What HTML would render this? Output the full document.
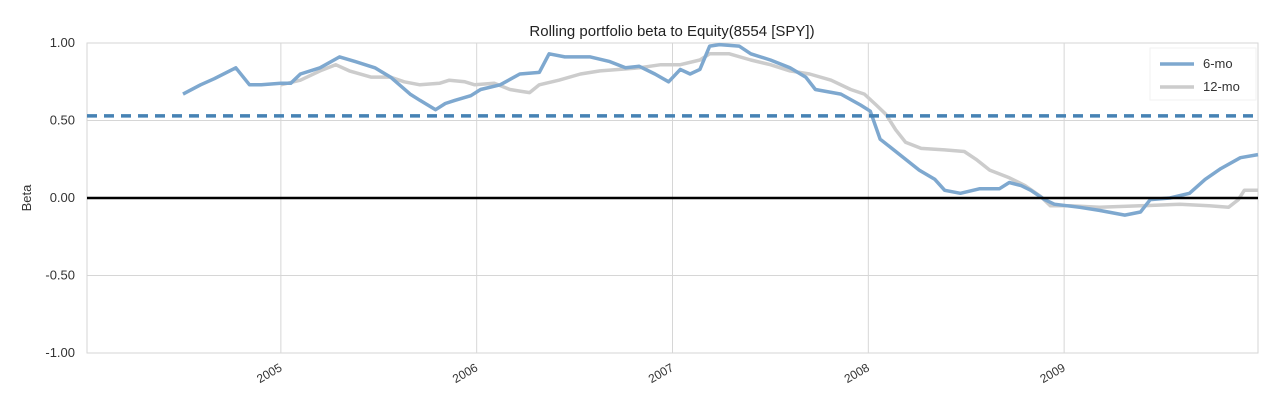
<!DOCTYPE html>
<html><head><meta charset="utf-8">
<style>
body{margin:0;background:#fff;font-family:"Liberation Sans",Arial,sans-serif;}
svg text{font-family:"Liberation Sans",Arial,sans-serif;fill:#333;}
</style></head>
<body>
<svg id="chart" width="1280" height="407" viewBox="0 0 1280 407" xmlns="http://www.w3.org/2000/svg">
<text x="672" y="36" text-anchor="middle" font-size="15" style="fill:#222">Rolling portfolio beta to Equity(8554 [SPY])</text>
<text transform="translate(31,198) rotate(-90)" text-anchor="middle" font-size="13">Beta</text>
<g id="grid"></g>
<g id="series"></g>
<g>
<rect x="1150" y="48" width="106" height="52" fill="#fff" stroke="#f2f2f2"/>
<line x1="1160" y1="64" x2="1194" y2="64" stroke="#7ea8cf" stroke-width="3.5"/>
<text x="1203" y="68" font-size="13">6-mo</text>
<line x1="1160" y1="87" x2="1194" y2="87" stroke="#cccccc" stroke-width="3.5"/>
<text x="1203" y="91" font-size="13">12-mo</text>
</g>
</svg>
<script>
const yTicks=[1,0.5,0,-0.5,-1];
const yTickLabels=["1.00","0.50","0.00","-0.50","-1.00"];
const xTicks=[2005,2006,2007,2008,2009];
const xTickLabels=["2005","2006","2007","2008","2009"];
const meanBeta=0.53;
const dates6=[2004.50,2004.59,2004.66,2004.77,2004.84,2004.90,2005.00,2005.05,2005.10,2005.20,2005.30,2005.38,2005.48,2005.56,2005.66,2005.71,2005.79,2005.84,2005.89,2005.97,2006.02,2006.12,2006.22,2006.32,2006.37,2006.45,2006.58,2006.68,2006.76,2006.83,2006.91,2006.98,2007.04,2007.09,2007.14,2007.19,2007.24,2007.34,2007.40,2007.50,2007.60,2007.68,2007.73,2007.86,2007.96,2008.01,2008.06,2008.16,2008.26,2008.34,2008.39,2008.47,2008.57,2008.67,2008.72,2008.78,2008.83,2008.90,2008.95,2009.08,2009.18,2009.31,2009.39,2009.44,2009.54,2009.64,2009.72,2009.80,2009.90,2009.99];
const beta6=[0.67,0.73,0.77,0.84,0.73,0.73,0.74,0.74,0.80,0.84,0.91,0.88,0.84,0.78,0.67,0.63,0.57,0.61,0.63,0.66,0.70,0.73,0.80,0.81,0.93,0.91,0.91,0.88,0.84,0.85,0.80,0.75,0.83,0.80,0.83,0.98,0.99,0.98,0.93,0.89,0.84,0.78,0.70,0.67,0.60,0.56,0.38,0.28,0.18,0.12,0.05,0.03,0.06,0.06,0.10,0.08,0.05,-0.01,-0.04,-0.06,-0.08,-0.11,-0.09,-0.01,0.00,0.03,0.12,0.19,0.26,0.28];
const dates12=[2005.00,2005.10,2005.20,2005.28,2005.35,2005.46,2005.56,2005.63,2005.71,2005.81,2005.86,2005.94,2005.99,2006.09,2006.17,2006.22,2006.27,2006.32,2006.42,2006.53,2006.63,2006.73,2006.83,2006.94,2007.04,2007.14,2007.19,2007.29,2007.40,2007.50,2007.60,2007.70,2007.81,2007.91,2007.98,2008.04,2008.09,2008.14,2008.19,2008.27,2008.39,2008.49,2008.55,2008.62,2008.72,2008.80,2008.88,2008.93,2009.03,2009.18,2009.39,2009.59,2009.74,2009.84,2009.89,2009.92,2009.99];
const beta12=[0.73,0.76,0.82,0.86,0.82,0.78,0.78,0.75,0.73,0.74,0.76,0.75,0.73,0.74,0.70,0.69,0.68,0.73,0.76,0.80,0.82,0.83,0.84,0.86,0.86,0.89,0.93,0.93,0.89,0.86,0.82,0.80,0.76,0.70,0.67,0.60,0.54,0.44,0.36,0.32,0.31,0.30,0.25,0.18,0.13,0.08,0.01,-0.05,-0.05,-0.06,-0.05,-0.04,-0.05,-0.06,-0.01,0.05,0.05];

const L=87,R=1258,T=43,B=353;
const xMin=2004.01,xMax=2009.99;
const xs=v=>L+(v-xMin)/(xMax-xMin)*(R-L);
const ys=v=>T+(1-v)/2*(B-T);
const NS="http://www.w3.org/2000/svg";
function mk(tag,attrs,parent){const e=document.createElementNS(NS,tag);for(const k in attrs)e.setAttribute(k,attrs[k]);parent.appendChild(e);return e;}
const grid=document.getElementById('grid'), ser=document.getElementById('series');
const frame=mk('rect',{x:L,y:T,width:R-L,height:B-T,fill:'none',stroke:'#d6d6d6'},grid);


yTicks.forEach((v,i)=>{
  const ln=mk('line',{x1:L,x2:R,y1:ys(v),y2:ys(v),stroke:'#d6d6d6'},grid);
  
  
  const t=mk('text',{x:L-12,y:ys(v)+4,'text-anchor':'end','font-size':'13'},grid);
  t.textContent=yTickLabels[i];
  
  
});
xTicks.forEach((v,i)=>{
  const ln=mk('line',{x1:xs(v),x2:xs(v),y1:T,y2:B,stroke:'#d6d6d6'},grid);
  
  
  const t=mk('text',{transform:`translate(${xs(v)+2},${B+17}) rotate(-30)`,'text-anchor':'end','font-size':'12'},grid);
  t.textContent=xTickLabels[i];
  
  
});
function pts(d,b){return d.map((x,i)=>xs(x).toFixed(1)+','+ys(b[i]).toFixed(1)).join(' ');}
const l12=mk('polyline',{points:pts(dates12,beta12),fill:'none',stroke:'#cccccc','stroke-width':3.5,'stroke-linejoin':'round'},ser);


const l6=mk('polyline',{points:pts(dates6,beta6),fill:'none',stroke:'#7ea8cf','stroke-width':3.5,'stroke-linejoin':'round'},ser);


const zl=mk('line',{x1:L,x2:R,y1:ys(0),y2:ys(0),stroke:'#000','stroke-width':2.5},ser);


const ml=mk('line',{x1:L,x2:R,y1:ys(meanBeta),y2:ys(meanBeta),stroke:'#4682b4','stroke-width':3.5,'stroke-dasharray':'10,7'},ser);


</script>
</body></html>
